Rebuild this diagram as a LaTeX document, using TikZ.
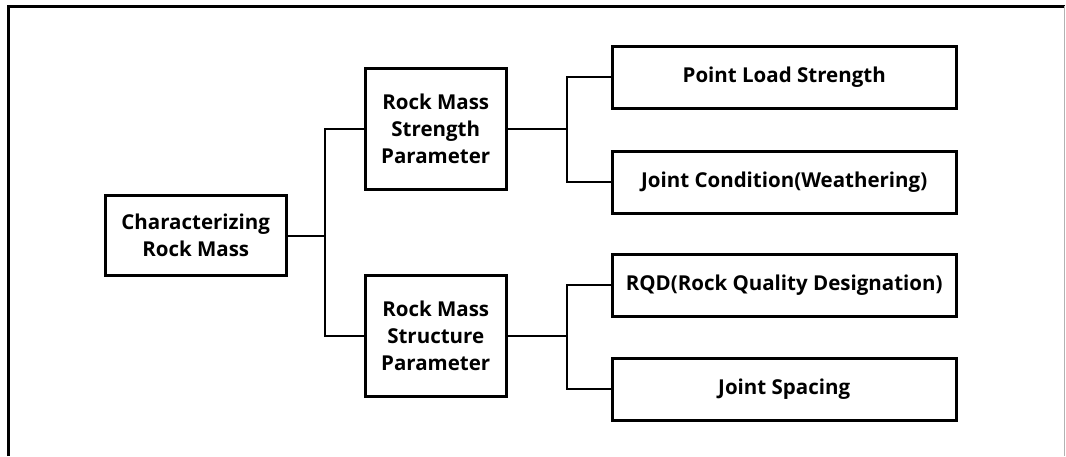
\documentclass[tikz,border=0pt]{standalone}
\usepackage{fontspec}
\setmainfont{Open Sans}
\begin{document}
\begin{tikzpicture}[x=1pt,y=-1pt,
  box/.style={draw=black, line width=3pt, fill=white, inner sep=0pt, align=center,
    font=\bfseries\fontsize{20.5}{26.7}\selectfont},
  conn/.style={draw=black, line width=2pt}]
\useasboundingbox (0,0) rectangle (1066,456);
% frame
\draw[black, line width=3pt] (8,456) -- (8,6) -- (1065,6);
\draw[gray!60, line width=1pt] (1064,6) -- (1064,456);
% nodes
\node[box, minimum width=180.5pt, minimum height=80pt] (char) at (195.75,235.5) {Characterizing\\Rock Mass};
\node[box, minimum width=140.5pt, minimum height=121pt] (str) at (435.75,129) {Rock Mass\\Strength\\Parameter};
\node[box, minimum width=140.5pt, minimum height=120.5pt] (stc) at (435.75,335.75) {Rock Mass\\Structure\\Parameter};
\node[box, minimum width=343.7pt, minimum height=62pt] (pls) at (784.2,77.25) {Point Load Strength};
\node[box, minimum width=343.7pt, minimum height=62pt] (jc) at (784.2,182.25) {Joint Condition(Weathering)};
\node[box, minimum width=343.7pt, minimum height=62pt] (rqd) at (784.2,285) {RQD(Rock Quality Designation)};
\node[box, minimum width=343.7pt, minimum height=62pt] (js) at (784.2,389.25) {Joint Spacing};
% bus coordinates
\coordinate (b0) at (325,235.5);
\coordinate (b1) at (566.7,129);
\coordinate (b2) at (566.7,335.75);
% connectors
\draw[conn] (char.east) -- (b0);
\draw[conn] (str.west) -| (b0) |- (stc.west);
\draw[conn] (str.east) -- (b1);
\draw[conn] (pls.west) -| (b1) |- (jc.west);
\draw[conn] (stc.east) -- (b2);
\draw[conn] (rqd.west) -| (b2) |- (js.west);
\end{tikzpicture}
\end{document}
